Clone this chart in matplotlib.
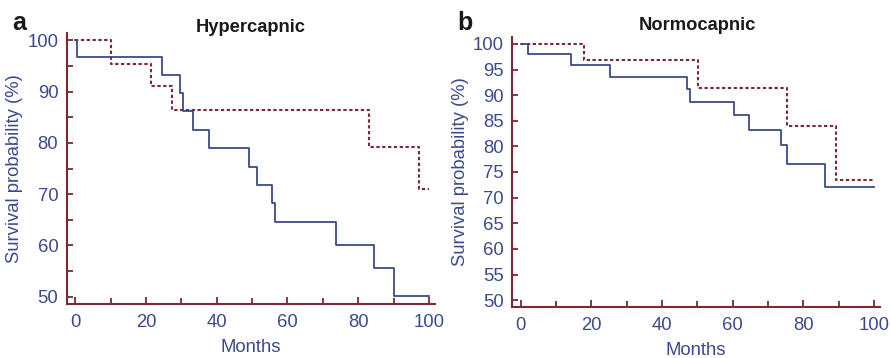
import matplotlib
matplotlib.use("Agg")
import matplotlib.pyplot as plt
from matplotlib.ticker import MultipleLocator

plt.rcParams['font.family'] = ['Liberation Sans', 'DejaVu Sans']

# Hypercapnic panel
hyp_solid_t = [0, 0.4, 24.4, 29.5, 30.4, 33.4, 37.7, 49.0, 51.4, 55.5, 56.5, 73.6, 84.4, 90.1, 100]
hyp_solid_s = [100, 96.7, 93.3, 89.7, 86.2, 82.5, 78.9, 75.3, 71.75, 68.2, 64.6, 60.1, 55.6, 50.1, 50.1]
hyp_dash_t = [0, 10.1, 21.4, 27.5, 83.0, 97.2, 100]
hyp_dash_s = [100, 95.4, 91.0, 86.4, 79.2, 71.1, 71.1]

# Normocapnic panel
nor_solid_t = [0, 2.0, 14.1, 25.4, 47.2, 48.0, 60.4, 64.6, 73.6, 75.5, 86.2, 100]
nor_solid_s = [100, 98.05, 95.85, 93.6, 91.25, 88.7, 86.05, 83.2, 80.2, 76.5, 72.1, 72.1]
nor_dash_t = [0, 18.0, 50.3, 75.3, 89.2, 100]
nor_dash_s = [100, 96.95, 91.45, 83.9, 73.4, 73.4]

xticks = [0, 20, 40, 60, 80, 100]
yticks_a = [50, 60, 70, 80, 90, 100]
yticks_b = [50, 55, 60, 65, 70, 75, 80, 85, 90, 95, 100]

navy = '#3c4a8c'
maroon = '#7a2a33'

W, H = 891, 358
fig = plt.figure(figsize=(W / 100, H / 100), dpi=100)

def px_axes(l, r, t, b):
    return fig.add_axes([l / W, 1 - b / H, (r - l) / W, (b - t) / H])

ax_a = px_axes(66.7, 435, 33, 304)
ax_b = px_axes(512.3, 880, 36.7, 307.3)

def style(ax, yt, yminor):
    for s in ['top', 'right']:
        ax.spines[s].set_visible(False)
    for s in ['left', 'bottom']:
        ax.spines[s].set_color(maroon)
        ax.spines[s].set_linewidth(1.5)
    ax.set_xlim(-2.4, 101.7)
    ax.set_ylim(48.6, 101.4)
    ax.set_xticks(xticks)
    ax.set_yticks(yt)
    ax.xaxis.set_minor_locator(MultipleLocator(10))
    if yminor:
        ax.yaxis.set_minor_locator(MultipleLocator(5))
    ax.tick_params(axis='both', which='both', direction='in', color=maroon,
                   width=1.3, labelcolor=navy, labelsize=13.3)
    ax.tick_params(axis='x', which='major', length=5, pad=7)
    ax.tick_params(axis='x', which='minor', length=4)
    ax.tick_params(axis='y', which='both', length=4, pad=6)
    ax.set_xlabel('Months', color=navy, fontsize=13.3, labelpad=6)
    ax.set_ylabel('Survival probability (%)', color=navy, fontsize=13.3, labelpad=3)

def draw(ax, st, ss, dt, ds):
    ax.step(dt, ds, where='post', color=maroon, lw=1.5, linestyle=(0, (1.6, 1.2)), zorder=2)
    ax.step(st, ss, where='post', color=navy, lw=1.3, zorder=3)

style(ax_a, yticks_a, True)
style(ax_b, yticks_b, False)
draw(ax_a, hyp_solid_t, hyp_solid_s, hyp_dash_t, hyp_dash_s)
draw(ax_b, nor_solid_t, nor_solid_s, nor_dash_t, nor_dash_s)

fig.text(251 / W, 1 - 31.7 / H, 'Hypercapnic', ha='center', va='baseline',
         fontsize=13.2, fontweight='bold', color='#1a1a1a')
fig.text(697 / W, 1 - 30 / H, 'Normocapnic', ha='center', va='baseline',
         fontsize=13.2, fontweight='bold', color='#1a1a1a')
fig.text(12 / W, 1 - 30 / H, 'a', ha='left', va='baseline',
         fontsize=18, fontweight='bold', color='#1a1a1a')
fig.text(457 / W, 1 - 30 / H, 'b', ha='left', va='baseline',
         fontsize=18, fontweight='bold', color='#1a1a1a')

fig.savefig('out.png', dpi=100)
